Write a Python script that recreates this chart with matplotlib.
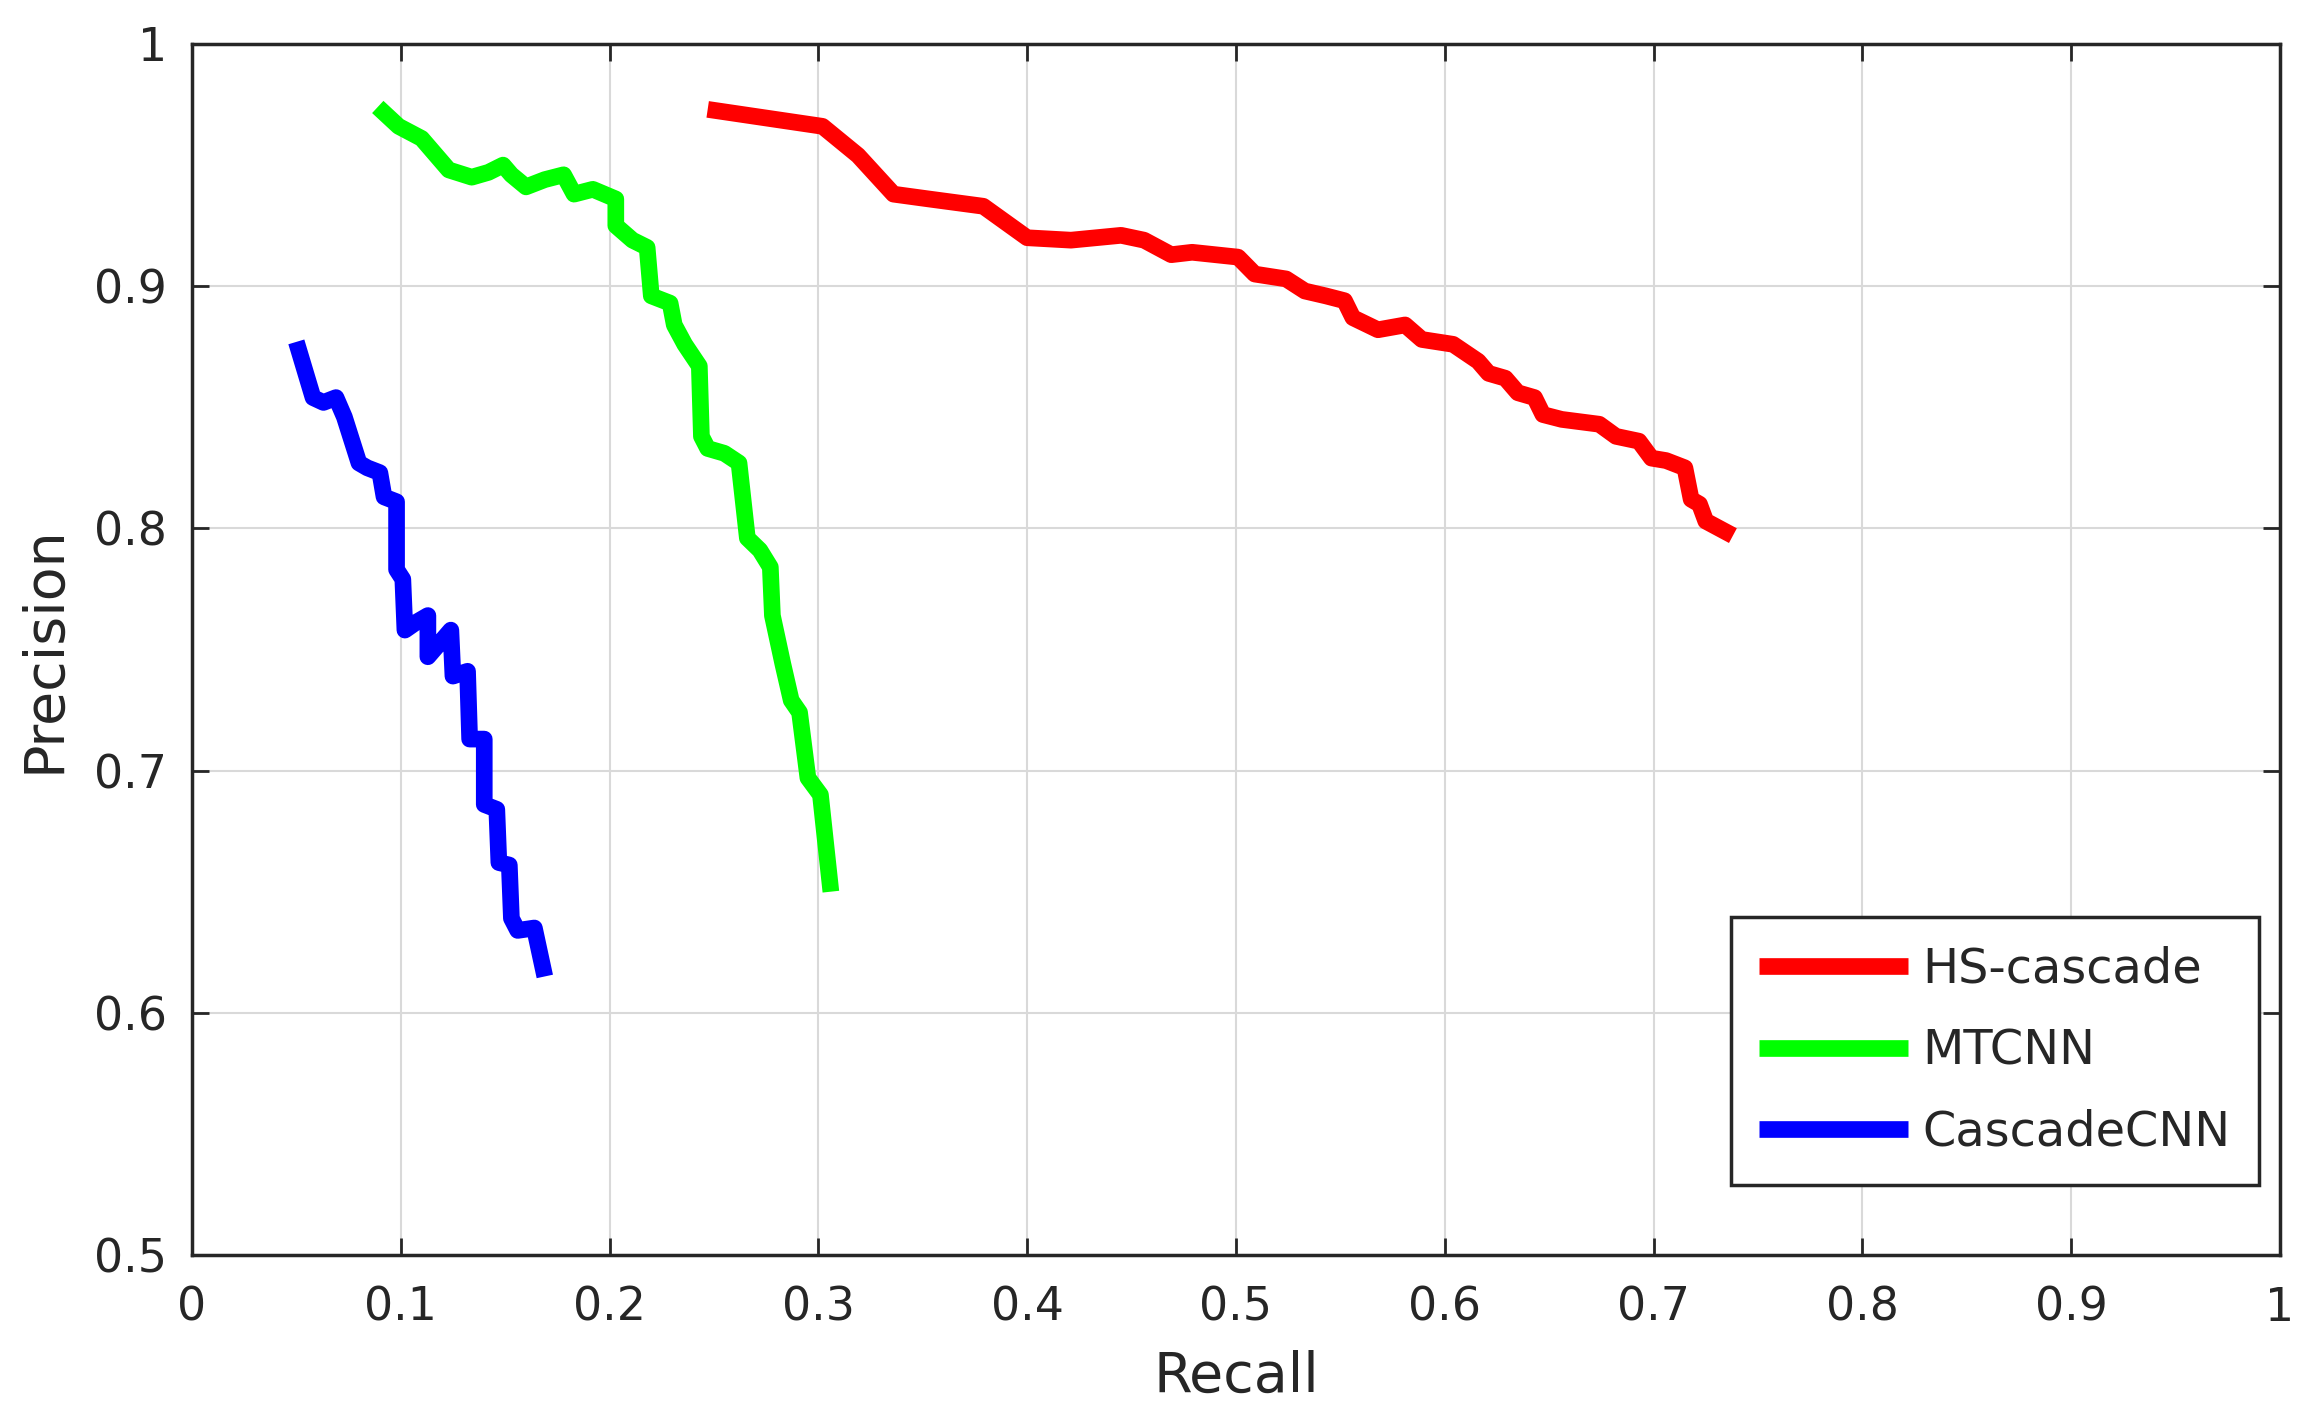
import numpy as np
import matplotlib
matplotlib.use('Agg')
import matplotlib.pyplot as plt

# precision / recall curves
hs_recall = [0.247, 0.302, 0.319, 0.336, 0.353, 0.379, 0.400, 0.421, 0.445, 0.456,
             0.469, 0.479, 0.501, 0.509, 0.524, 0.533, 0.543, 0.552, 0.556, 0.568,
             0.581, 0.589, 0.604, 0.616, 0.621, 0.629, 0.635, 0.643, 0.647, 0.656,
             0.674, 0.682, 0.693, 0.699, 0.706, 0.715, 0.718, 0.722, 0.725, 0.738]
hs_precision = [0.973, 0.966, 0.954, 0.938, 0.936, 0.933, 0.920, 0.919, 0.921, 0.919,
                0.913, 0.914, 0.912, 0.905, 0.903, 0.898, 0.896, 0.894, 0.887, 0.882,
                0.884, 0.878, 0.876, 0.869, 0.864, 0.862, 0.856, 0.854, 0.847, 0.845,
                0.843, 0.838, 0.836, 0.829, 0.828, 0.825, 0.812, 0.810, 0.803, 0.797]

mtcnn_recall = [0.089, 0.099, 0.110, 0.123, 0.134, 0.142, 0.149, 0.153, 0.160, 0.169,
                0.178, 0.183, 0.192, 0.203, 0.203, 0.211, 0.218, 0.220, 0.229, 0.231,
                0.236, 0.243, 0.244, 0.247, 0.255, 0.262, 0.266, 0.272, 0.277, 0.278,
                0.283, 0.287, 0.291, 0.295, 0.301, 0.306]
mtcnn_precision = [0.974, 0.966, 0.961, 0.948, 0.945, 0.947, 0.950, 0.946, 0.941, 0.944,
                   0.946, 0.938, 0.940, 0.936, 0.925, 0.919, 0.916, 0.896, 0.893, 0.884,
                   0.876, 0.867, 0.838, 0.833, 0.831, 0.827, 0.796, 0.791, 0.784, 0.764,
                   0.744, 0.729, 0.724, 0.697, 0.690, 0.650]

ccnn_recall = [0.050, 0.058, 0.063, 0.069, 0.073, 0.080, 0.084, 0.090, 0.092, 0.098,
               0.098, 0.101, 0.102, 0.107, 0.113, 0.113, 0.118, 0.124, 0.125, 0.132,
               0.133, 0.140, 0.140, 0.146, 0.147, 0.152, 0.153, 0.156, 0.164, 0.169]
ccnn_precision = [0.877, 0.854, 0.852, 0.854, 0.846, 0.827, 0.825, 0.823, 0.813, 0.811,
                  0.783, 0.779, 0.758, 0.761, 0.764, 0.747, 0.752, 0.758, 0.739, 0.741,
                  0.713, 0.713, 0.686, 0.684, 0.662, 0.661, 0.639, 0.634, 0.635, 0.615]

x_ticks = [0, 0.1, 0.2, 0.3, 0.4, 0.5, 0.6, 0.7, 0.8, 0.9, 1]
x_labels = ['0', '0.1', '0.2', '0.3', '0.4', '0.5', '0.6', '0.7', '0.8', '0.9', '1']
y_ticks = [0.5, 0.6, 0.7, 0.8, 0.9, 1]
y_labels = ['0.5', '0.6', '0.7', '0.8', '0.9', '1']

plt.rcParams['font.family'] = ['DejaVu Sans']

fig = plt.figure(figsize=(23.18, 14.19), dpi=100)
ax = fig.add_axes([0.0828, 0.1156, 0.9008, 0.8534])

# thick lines like the matlab export
lw = 12
style = dict(lw=lw, solid_joinstyle='round', solid_capstyle='butt')
ax.plot(hs_recall, hs_precision, color='#ff0000', label='HS-cascade', **style)
ax.plot(mtcnn_recall, mtcnn_precision, color='#00ff00', label='MTCNN', **style)
ax.plot(ccnn_recall, ccnn_precision, color='#0000ff', label='CascadeCNN', **style)

ax.set_xlim(0, 1)
ax.set_ylim(0.5, 1)
ax.set_xticks(x_ticks)
ax.set_xticklabels(x_labels)
ax.set_yticks(y_ticks)
ax.set_yticklabels(y_labels)
ax.grid(True, color='#d9d9d9', lw=1.5)
ax.set_axisbelow(True)

ax.tick_params(direction='in', length=12, width=2, colors='#262626',
               labelsize=33, top=True, right=True)
ax.tick_params(axis='x', pad=22)
ax.tick_params(axis='y', pad=18)
for s in ax.spines.values():
    s.set_color('#262626')
    s.set_linewidth(2.5)

ax.set_xlabel('Recall', fontsize=40, color='#262626', labelpad=14)
ax.set_ylabel('Precision', fontsize=40, color='#262626', labelpad=16)

leg = ax.legend(loc='lower right', bbox_to_anchor=(0.99, 0.058), fontsize=34.5,
                handlelength=3.1, handletextpad=0.3, labelspacing=0.72,
                fancybox=False, framealpha=1, borderpad=0.6, borderaxespad=0)
leg.get_frame().set_edgecolor('#262626')
leg.get_frame().set_linewidth(2.5)
for t in leg.get_texts():
    t.set_color('#262626')

fig.savefig('out.png', dpi=100)
